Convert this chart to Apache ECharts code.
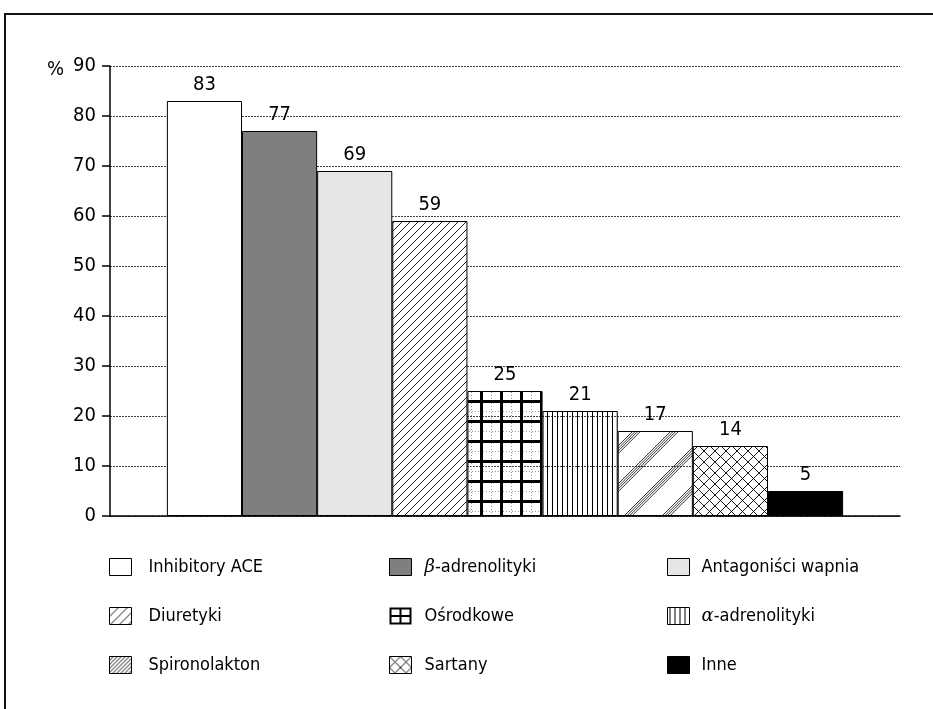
<!DOCTYPE html>
<html>
<head>
<meta charset="utf-8">
<script src="https://cdn.jsdelivr.net/npm/echarts@6/dist/echarts.min.js"></script>
<style>
html,body{margin:0;padding:0;background:#fff;}
#chart{width:933px;height:709px;}
</style>
</head>
<body>
<div id="chart"></div>
<script>
// ---- data ----
var seriesNames = ['Inhibitory ACE', 'β-adrenolityki', 'Antagoniści wapnia', 'Diuretyki', 'Ośrodkowe', 'α-adrenolityki', 'Spironolakton', 'Sartany', 'Inne'];
var seriesValues = [83, 77, 69, 59, 25, 21, 17, 14, 5];
var yTicks = [0, 10, 20, 30, 40, 50, 60, 70, 80, 90];
var legendCol1 = ['Inhibitory ACE', 'Diuretyki', 'Spironolakton'];
var legendCol2 = ['β-adrenolityki', 'Ośrodkowe', 'Sartany'];
var legendCol3 = ['Antagoniści wapnia', 'α-adrenolityki', 'Inne'];

var FONT = '"Liberation Sans Narrow", "DejaVu Sans Condensed", "Liberation Sans", sans-serif';

// ---- patterns ----
function makeCanvas(w, h, bg) {
  var c = document.createElement('canvas');
  c.width = w; c.height = h;
  var ctx = c.getContext('2d');
  if (bg) { ctx.fillStyle = bg; ctx.fillRect(0, 0, w, h); }
  return {c: c, ctx: ctx};
}
function diag(ctx, s, off, dir, lw, color) {
  ctx.strokeStyle = color; ctx.lineWidth = lw;
  for (var k = -1; k <= 1; k++) {
    var o = off + k * s;
    ctx.beginPath();
    if (dir === '/') { ctx.moveTo(o - 1, s + 1); ctx.lineTo(o + s + 1, -1); }
    else { ctx.moveTo(o - 1, -1); ctx.lineTo(o + s + 1, s + 1); }
    ctx.stroke();
  }
}
function patHatch(s) {
  var t = makeCanvas(s, s, '#fff');
  diag(t.ctx, s, 0, '/', 0.9, '#000');
  return {image: t.c, repeat: 'repeat'};
}
function patGrid(s) {
  var t = makeCanvas(s, s, null);
  var ctx = t.ctx;
  ctx.strokeStyle = '#999'; ctx.lineWidth = 1;
  ctx.setLineDash([1, 2]);
  var m = Math.round(s / 2) + 1.5;
  ctx.beginPath(); ctx.moveTo(m, 0); ctx.lineTo(m, s); ctx.stroke();
  ctx.beginPath(); ctx.moveTo(0, m); ctx.lineTo(s, m); ctx.stroke();
  ctx.setLineDash([]);
  ctx.fillStyle = '#000';
  ctx.fillRect(0, 0, 3, s);
  ctx.fillRect(0, 0, s, 3);
  return {image: t.c, repeat: 'repeat'};
}
function patAlpha() {
  var t = makeCanvas(5, 5, null);
  t.ctx.fillStyle = '#000';
  t.ctx.fillRect(2, 0, 1, 5);
  return {image: t.c, repeat: 'repeat'};
}
function patSpiro() {
  var t = makeCanvas(38, 38, null);
  diag(t.ctx, 38, 0, '/', 0.8, '#000');
  diag(t.ctx, 38, 2.6, '/', 0.8, '#000');
  diag(t.ctx, 38, 5.2, '/', 0.8, '#000');
  diag(t.ctx, 38, 7.8, '/', 0.8, '#000');
  return {image: t.c, repeat: 'repeat'};
}
function patSartany() {
  var t = makeCanvas(11, 11, '#fff');
  diag(t.ctx, 11, 0, '/', 0.9, '#000');
  diag(t.ctx, 11, 0, '\\', 0.9, '#000');
  return {image: t.c, repeat: 'repeat'};
}

var seriesColors = ['#ffffff', '#7f7f7f', '#e6e6e6', patHatch(8), patGrid(20), patAlpha(), patSpiro(), patSartany(), '#000000'];
// legend-icon-specific swatches
var legendItemStyles = {
  'Diuretyki': {itemStyle: {color: patHatch(9)}},
  'Spironolakton': {itemStyle: {color: patHatch(4)}},
  'Ośrodkowe': {
    icon: 'path://M0,0H22V17H0Z M2,2V7.5H10V2Z M12,2V7.5H20V2Z M2,9.5V15H10V9.5Z M12,9.5V15H20V9.5Z',
    itemStyle: {color: '#000', borderWidth: 0}
  }
};

var chart = echarts.init(document.getElementById('chart'));

function legendFmt(name) {
  if (name.charAt(0) === 'β') return '{g|β}' + name.slice(1);
  if (name.charAt(0) === 'α') return '{g|α}' + name.slice(1);
  return name;
}
function legendCfg(left, names, textPad) {
  return {
    orient: 'vertical',
    left: left,
    top: 553,
    itemWidth: 22,
    itemHeight: 17,
    itemGap: 31,
    icon: 'rect',
    selectedMode: false,
    data: names.map(function (n) {
      var d = {name: n};
      var extra = legendItemStyles[n];
      if (extra) { for (var k in extra) d[k] = extra[k]; }
      return d;
    }),
    formatter: legendFmt,
    itemStyle: {borderColor: '#000', borderWidth: 1},
    textStyle: {
      fontFamily: FONT, fontSize: 18, color: '#000',
      padding: [0, 0, 0, textPad],
      rich: {g: {fontFamily: '"DejaVu Serif", "Liberation Serif", serif', fontStyle: 'italic', fontSize: 18, color: '#000'}}
    }
  };
}

var series = seriesNames.map(function (n, i) {
  return {
    name: n,
    type: 'bar',
    data: [seriesValues[i]],
    barGap: '0%',
    barCategoryGap: '14.4%',
    itemStyle: {color: seriesColors[i], borderColor: '#000', borderWidth: 1},
    label: {show: true, position: 'top', distance: 6, color: '#000', fontFamily: FONT, fontSize: 20},
    emphasis: {disabled: true},
    animation: false
  };
});

chart.setOption({
  animation: false,
  backgroundColor: '#fff',
  grid: {left: 110, right: 33, top: 66, bottom: 193, containLabel: false},
  title: {text: '%', left: 42, top: 55, textStyle: {fontFamily: FONT, fontSize: 20, fontWeight: 'normal', color: '#000'}},
  legend: [legendCfg(104, legendCol1, 12), legendCfg(384, legendCol2, 8), legendCfg(662, legendCol3, 7)],
  xAxis: {
    type: 'category',
    data: [''],
    axisLine: {lineStyle: {color: '#000', width: 1.5}},
    axisTick: {show: false},
    axisLabel: {show: false}
  },
  yAxis: {
    type: 'value',
    min: yTicks[0],
    max: yTicks[yTicks.length - 1],
    interval: yTicks[1] - yTicks[0],
    axisLine: {show: true, lineStyle: {color: '#000', width: 1.5}},
    axisTick: {show: true, length: 8, lineStyle: {color: '#000', width: 1.5}},
    axisLabel: {color: '#000', fontFamily: FONT, fontSize: 20, margin: 14},
    splitLine: {show: true, lineStyle: {color: '#444', type: [2, 1], width: 1}}
  },
  graphic: [{
    type: 'polyline',
    shape: {points: [[5, 709], [5, 14], [933, 14]]},
    style: {stroke: '#111', lineWidth: 2, fill: null},
    silent: true
  }],
  series: series
});
</script>
</body>
</html>
